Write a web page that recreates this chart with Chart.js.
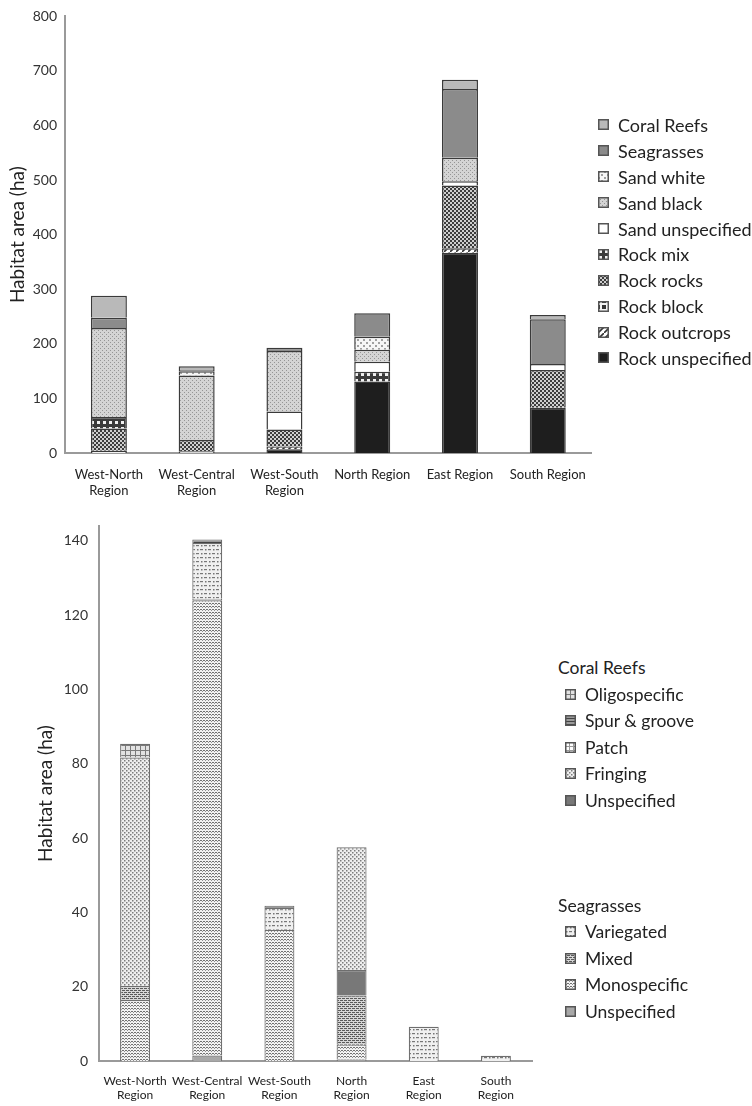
<!DOCTYPE html>
<html lang="en">
<head>
    <meta charset="UTF-8">
    <title>Habitat area by region</title>
    <script src="https://cdn.jsdelivr.net/npm/chart.js"></script>
    <style>
        body {
            margin: 0;
            background: #fff;
            font-family: Lato, "Open Sans", sans-serif;
            color: #222;
        }
        #page {
            position: relative;
            width: 752px;
            height: 1106px;
            overflow: hidden;
        }
        canvas.chart {
            position: absolute;
        }
        .legend {
            position: absolute;
            font-size: 17.5px;
        }
        .legend .item {
            height: 26.5px;
            display: flex;
            align-items: center;
            white-space: nowrap;
        }
        #legend1 .item {
            height: 25.9px;
            font-size: 18px;
        }
        .legend .item canvas {
            margin-right: 9px;
        }
        .legend .head {
            height: 27px;
            display: flex;
            align-items: center;
            margin-left: -7px;
        }
    </style>
</head>
<body>
<div id="page">
    <canvas id="chart1" class="chart" width="600" height="508" style="left:0;top:0"></canvas>
    <div id="legend1" class="legend" style="left:598px;top:112px"></div>

    <canvas id="chart2" class="chart" width="540" height="606" style="left:0;top:500px"></canvas>
    <div id="legend2" class="legend" style="left:565px;top:654px"></div>
</div>

<script>
    // ---- top chart: habitat types per region (ha) ----
    const regions1 = [['West-North', 'Region'], ['West-Central', 'Region'], ['West-South', 'Region'],
        'North Region', 'East Region', 'South Region'];

    const rockUnspecified = [0, 0, 7, 131, 367, 83];
    const rockOutcrops    = [0, 0, 5, 0, 8, 0];
    const rockBlock       = [4, 3, 0, 0, 0, 0];
    const rockRocks       = [41, 21, 31, 0, 115, 69];
    const rockMix         = [21, 0, 0, 18, 0, 0];
    const sandUnspecified = [0, 0, 33, 18, 8, 11];
    const sandBlack       = [163, 118, 111, 22, 43, 0];
    const sandWhite       = [0, 8, 0, 24, 0, 0];
    const seagrasses      = [19, 2, 6, 43, 126, 82];
    const coralReefs      = [40, 7, 0, 0, 17, 8];

    const yTicks1 = [0, 100, 200, 300, 400, 500, 600, 700, 800];

    // ---- bottom chart: coral reef and seagrass sub-types (ha) ----
    const regions2 = [['West-North', 'Region'], ['West-Central', 'Region'], ['West-South', 'Region'],
        ['North', 'Region'], ['East', 'Region'], ['South', 'Region']];

    const sgUnspecified   = [0, 1.5, 0, 0.4, 0, 0];
    const sgMonospecific  = [16.4, 122.5, 35.3, 4.0, 0, 0];
    const sgMixed         = [3.8, 0.4, 0, 13.2, 0, 0];
    const sgVariegated    = [0, 15, 5.9, 0, 9.2, 1.4];
    const crUnspecified   = [0, 0, 0, 6.9, 0, 0];
    const crFringing      = [61.5, 0, 0, 33, 0, 0];
    const crPatch         = [0, 0, 0, 0, 0, 0];
    const crSpurGroove    = [0, 1, 0.6, 0, 0, 0];
    const crOligospecific = [3.7, 0, 0, 0, 0, 0];

    const yTicks2 = [0, 20, 40, 60, 80, 100, 120, 140];

    const FONT = 'Lato, "Open Sans", sans-serif';

    // small tile canvases used as fill patterns (grey print style)
    function tile(size, bg, draw) {
        const c = document.createElement('canvas');
        c.width = size; c.height = size;
        const g = c.getContext('2d');
        g.fillStyle = bg;
        g.fillRect(0, 0, size, size);
        if (draw) draw(g);
        return c;
    }
    function dots(col, step, r, stagger) {
        return g => {
            g.fillStyle = col;
            g.fillRect(0, 0, r, r);
            if (stagger) g.fillRect(step / 2, step / 2, r, r);
        };
    }

    const tiles = {
        coral:     tile(4, '#b9b9b9'),
        seagrass:  tile(4, '#8b8b8b'),
        sandWhite: tile(6, '#f6f6f6', dots('#a0a0a0', 6, 2, true)),
        sandBlack: tile(4, '#d4d4d4', dots('#959595', 4, 1, true)),
        sandUns:   tile(4, '#ffffff'),
        rockMix:   tile(6, '#3a3a3a', g => { g.fillStyle = '#f0f0f0'; g.fillRect(1, 1, 3, 3); }),
        rockRocks: tile(4, '#3c3c3c', dots('#cfcfcf', 4, 2, true)),
        rockBlock: tile(6, '#333333', g => {
            g.fillStyle = '#f2f2f2'; g.fillRect(2, 0, 2, 6); g.fillRect(0, 2, 6, 2);
        }),
        rockOut:   tile(6, '#ffffff', g => {
            g.strokeStyle = '#333'; g.lineWidth = 1.6;
            g.beginPath(); g.moveTo(0, 6); g.lineTo(6, 0); g.stroke();
        }),
        rockUns:   tile(4, '#1e1e1e'),

        oligo:     tile(5, '#e2e2e2', g => {
            g.fillStyle = '#7a7a7a'; g.fillRect(0, 0, 5, 1); g.fillRect(0, 0, 1, 5);
        }),
        spur:      tile(3, '#9a9a9a', g => { g.fillStyle = '#444'; g.fillRect(0, 0, 3, 1); }),
        patch:     tile(4, '#ffffff', g => {
            g.fillStyle = '#9a9a9a'; g.fillRect(0, 0, 4, 1); g.fillRect(0, 0, 1, 4);
        }),
        fringing:  tile(4, '#efefef', dots('#7c7c7c', 4, 1.5, true)),
        crUns:     tile(4, '#787878'),
        varieg:    tile(8, '#f0f0f0', g => {
            g.fillStyle = '#777';
            g.fillRect(0, 1, 3, 1.2); g.fillRect(5, 1, 1.5, 1.5);
            g.fillRect(4, 5, 3, 1.2); g.fillRect(1, 5, 1.5, 1.5);
        }),
        mixed:     tile(4, '#d6d6d6', g => {
            g.fillStyle = '#5a5a5a'; g.fillRect(0, 0, 3, 1); g.fillRect(2, 2, 3, 1); g.fillRect(0, 2, 1, 1);
        }),
        mono:      tile(6, '#f2f2f2', g => {
            g.strokeStyle = '#707070'; g.lineWidth = 1;
            g.beginPath(); g.moveTo(0, 1); g.lineTo(1.5, 2.5); g.lineTo(3, 1); g.lineTo(4.5, 2.5); g.lineTo(6, 1); g.stroke();
            g.beginPath(); g.moveTo(0, 4); g.lineTo(1.5, 5.5); g.lineTo(3, 4); g.lineTo(4.5, 5.5); g.lineTo(6, 4); g.stroke();
        }),
        sgUns:     tile(4, '#a8a8a8')
    };

    function fill(ctx, key) {
        return ctx.createPattern(tiles[key], 'repeat');
    }

    const ctx1 = document.getElementById('chart1').getContext('2d');
    const ctx2 = document.getElementById('chart2').getContext('2d');

    // datasets, bottom of the stack first
    const series1 = [
        ['Rock unspecified', rockUnspecified, 'rockUns'],
        ['Rock outcrops', rockOutcrops, 'rockOut'],
        ['Rock block', rockBlock, 'rockBlock'],
        ['Rock rocks', rockRocks, 'rockRocks'],
        ['Rock mix', rockMix, 'rockMix'],
        ['Sand unspecified', sandUnspecified, 'sandUns'],
        ['Sand black', sandBlack, 'sandBlack'],
        ['Sand white', sandWhite, 'sandWhite'],
        ['Seagrasses', seagrasses, 'seagrass'],
        ['Coral Reefs', coralReefs, 'coral']
    ];

    const series2 = [
        ['Unspecified', sgUnspecified, 'sgUns', 'Seagrasses'],
        ['Monospecific', sgMonospecific, 'mono', 'Seagrasses'],
        ['Mixed', sgMixed, 'mixed', 'Seagrasses'],
        ['Variegated', sgVariegated, 'varieg', 'Seagrasses'],
        ['Unspecified', crUnspecified, 'crUns', 'Coral Reefs'],
        ['Fringing', crFringing, 'fringing', 'Coral Reefs'],
        ['Patch', crPatch, 'patch', 'Coral Reefs'],
        ['Spur & groove', crSpurGroove, 'spur', 'Coral Reefs'],
        ['Oligospecific', crOligospecific, 'oligo', 'Coral Reefs']
    ];

    function axisOpts(ticks, max, yWidth, tickSize, tickPad) {
        return {
            stacked: true,
            min: 0,
            max: max,
            grid: { display: false, drawTicks: false },
            border: { color: '#9a9a9a', width: 2 },
            afterBuildTicks: s => { s.ticks = ticks.map(v => ({ value: v })); },
            ticks: { color: '#333', font: { family: FONT, size: tickSize }, padding: tickPad },
            title: {
                display: true, text: 'Habitat area (ha)', color: '#222',
                font: { family: FONT, size: 19 }, padding: { top: 0, bottom: 0 }
            },
            afterFit: s => { s.width = yWidth; }
        };
    }

    function xOpts(height, pad, size) {
        return {
            stacked: true,
            grid: { display: false, drawTicks: false },
            border: { color: '#9a9a9a', width: 2 },
            ticks: {
                color: '#222', font: { family: FONT, size: size, lineHeight: 1.2 }, padding: pad,
                maxRotation: 0, autoSkip: false
            },
            afterFit: s => { s.height = height; }
        };
    }

    const chart1 = new Chart(ctx1, {
        type: 'bar',
        data: {
            labels: regions1,
            datasets: series1.map(([label, data, key]) => ({
                label: label,
                data: data,
                backgroundColor: fill(ctx1, key),
                borderColor: '#3a3a3a',
                borderWidth: 1.5,
                barPercentage: 0.41,
                categoryPercentage: 1
            }))
        },
        options: {
            responsive: false,
            animation: false,
            layout: { padding: { top: 16, right: 3, left: 6, bottom: 0 } },
            plugins: { legend: { display: false }, tooltip: { enabled: false } },
            scales: {
                x: xOpts(55, 14, 13),
                y: axisOpts(yTicks1, 800, 59, 14, 8)
            }
        }
    });

    const chart2 = new Chart(ctx2, {
        type: 'bar',
        data: {
            labels: regions2,
            datasets: series2.map(([label, data, key]) => ({
                label: label,
                data: data,
                backgroundColor: fill(ctx2, key),
                borderColor: '#6e6e6e',
                borderWidth: 1.2,
                barPercentage: 0.415,
                categoryPercentage: 1
            }))
        },
        options: {
            responsive: false,
            animation: false,
            layout: { padding: { top: 26, right: 8, left: 34, bottom: 0 } },
            plugins: { legend: { display: false }, tooltip: { enabled: false } },
            scales: {
                x: xOpts(45, 13, 12),
                y: axisOpts(yTicks2, 144, 65, 14, 11)
            }
        }
    });

    // HTML legends with the same fills
    function swatch(key) {
        const c = document.createElement('canvas');
        c.width = 11; c.height = 11;
        const g = c.getContext('2d');
        g.fillStyle = g.createPattern(tiles[key], 'repeat');
        g.fillRect(0, 0, 11, 11);
        g.strokeStyle = '#555';
        g.lineWidth = 1.5;
        g.strokeRect(0.75, 0.75, 9.5, 9.5);
        return c;
    }
    function addItem(box, label, key) {
        const d = document.createElement('div');
        d.className = 'item';
        d.appendChild(swatch(key));
        d.appendChild(document.createTextNode(label));
        box.appendChild(d);
    }

    const legend1 = document.getElementById('legend1');
    series1.slice().reverse().forEach(([label, , key]) => addItem(legend1, label, key));

    const legend2 = document.getElementById('legend2');
    const groups = ['Coral Reefs', 'Seagrasses'];
    groups.forEach((grp, i) => {
        const h = document.createElement('div');
        h.className = 'head';
        if (i > 0) h.style.marginTop = '78px';
        h.textContent = grp;
        legend2.appendChild(h);
        series2.slice().reverse()
            .filter(s => s[3] === grp)
            .forEach(([label, , key]) => addItem(legend2, label, key));
    });
</script>
</body>
</html>
